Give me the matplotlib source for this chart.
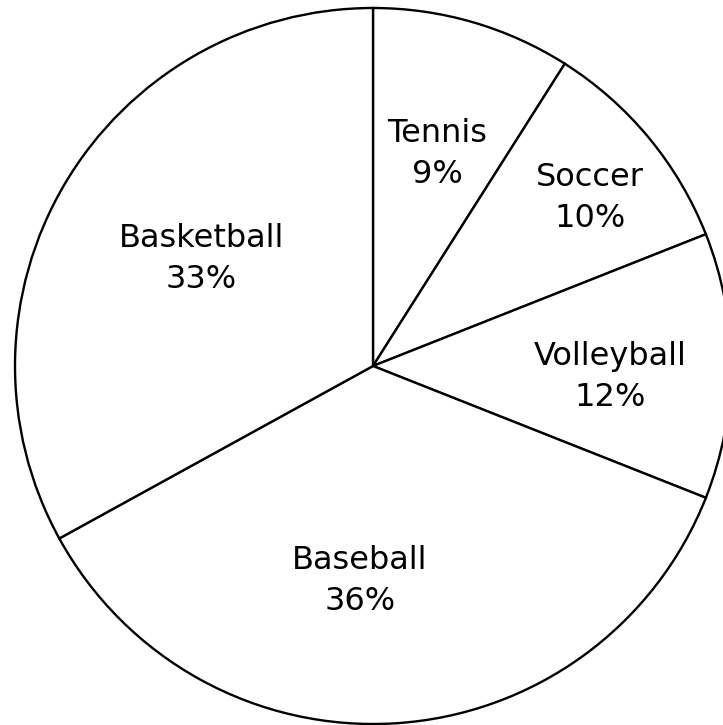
import numpy as np
import matplotlib
matplotlib.use("Agg")
import matplotlib.pyplot as plt

# slice data, clockwise from 12 o'clock
sports = ["Tennis", "Soccer", "Volleyball", "Baseball", "Basketball"]
shares = [9, 10, 12, 36, 33]

# label placement (fraction of radius, angle tweak in degrees)
label_r = [0.618, 0.766, 0.663, 0.602, 0.565]
label_shift = [-0.6, -1.9, -2.7, -7.1, -1.3]

fig = plt.figure(figsize=(7.23, 7.25), dpi=100)
ax = fig.add_axes([0, 0, 1, 1])

wedges, texts = ax.pie(shares, startangle=90, counterclock=False,
                       colors=["white"] * len(shares),
                       wedgeprops={"edgecolor": "black", "linewidth": 1.7},
                       labels=[f"{s}\n{v}%" for s, v in zip(sports, shares)],
                       labeldistance=0.6)

for w, t, r, d in zip(wedges, texts, label_r, label_shift):
    mid = np.deg2rad((w.theta1 + w.theta2) / 2 + d)
    t.set_position((r * np.cos(mid), r * np.sin(mid)))
    t.set_ha("center")
    t.set_va("center")
    t.set_fontsize(23)
    t.set_linespacing(1.42)

ax.set_aspect("auto")
ax.set_xlim(-373 / 358, 350 / 358)
ax.set_ylim(-359 / 358, 366 / 358)
ax.axis("off")

fig.savefig("out.png", dpi=100, facecolor="white")
